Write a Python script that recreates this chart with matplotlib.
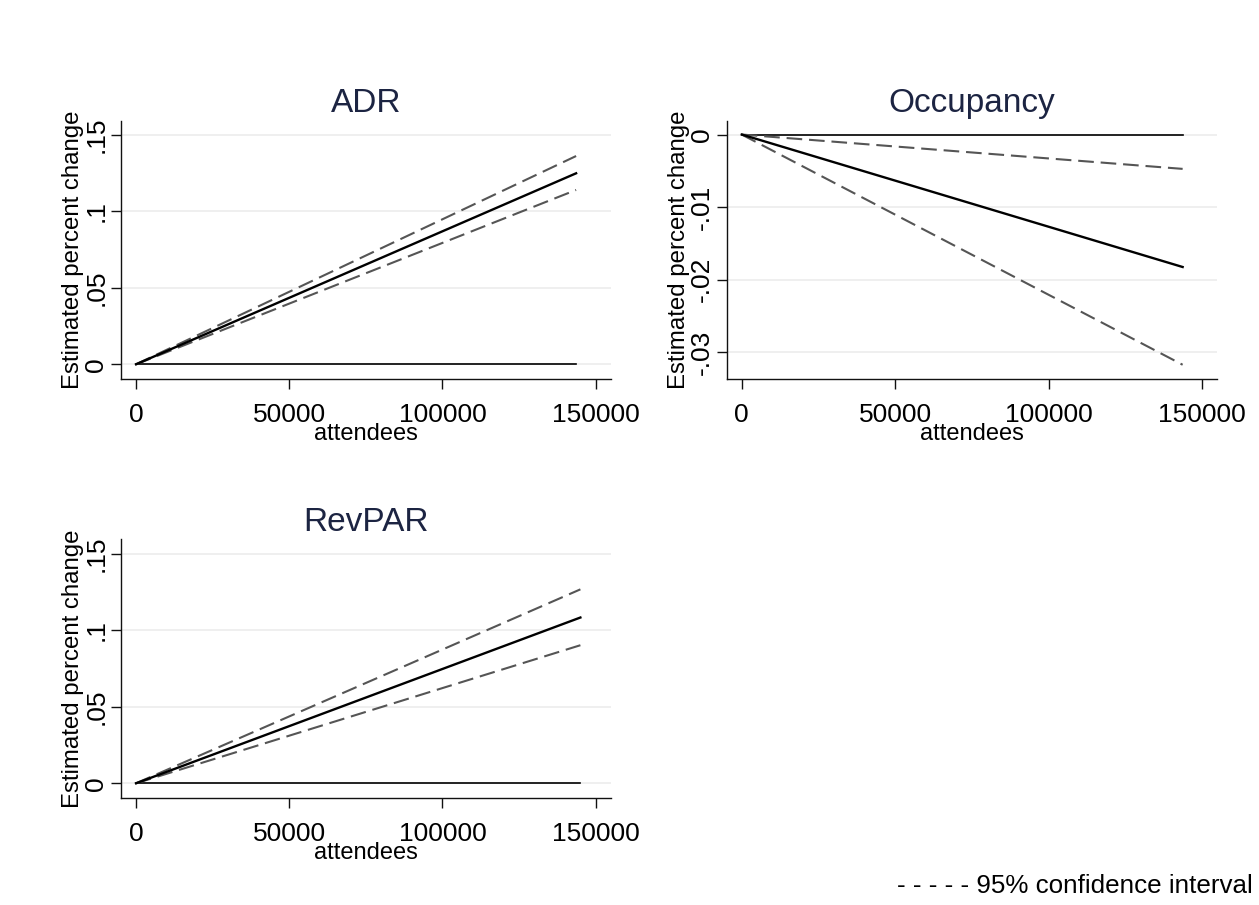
import matplotlib
matplotlib.use("Agg")
import matplotlib.pyplot as plt

plt.rcParams['font.family'] = ['Liberation Sans', 'DejaVu Sans']

# ---- data ----
adr_x = [0, 143600]
adr_est = [0, 0.125]
adr_lo = [0, 0.1141]
adr_hi = [0, 0.1363]

occ_x = [0, 143600]
occ_est = [0, -0.01824]
occ_lo = [0, -0.0317]
occ_hi = [0, -0.00473]

rev_x = [0, 145000]
rev_est = [0, 0.1083]
rev_lo = [0, 0.0902]
rev_hi = [0, 0.1267]

adr_yticks = [0, 0.05, 0.1, 0.15]
adr_ylabels = ['0', '.05', '.1', '.15']
occ_yticks = [0, -0.01, -0.02, -0.03]
occ_ylabels = ['0', '-.01', '-.02', '-.03']
xticks = [0, 50000, 100000, 150000]
xlabels = ['0', '50000', '100000', '150000']

W, H = 1259, 905
fig = plt.figure(figsize=(W / 100, H / 100), dpi=100)
fig.patch.set_facecolor('white')

title_color = '#1c2442'
dash_color = '#555555'
dash_style = (0, (7.5, 3.3))


def panel(rect, title, x, est, lo, hi, yticks, ylabels, ylim):
    ax = fig.add_axes(rect)
    ax.set_xlim(-4900, 154900)
    ax.set_ylim(*ylim)
    for y in yticks:
        ax.axhline(y, color='#ebebeb', lw=1.1, zorder=0)
    zero = [0 * v for v in est]
    ax.plot(x, zero, color='black', lw=1.2, zorder=2)
    ax.plot(x, hi, color=dash_color, lw=1.5, ls=dash_style, zorder=3)
    ax.plot(x, lo, color=dash_color, lw=1.5, ls=dash_style, zorder=3)
    ax.plot(x, est, color='black', lw=1.7, zorder=4)
    for s in ['top', 'right']:
        ax.spines[s].set_visible(False)
    for s in ['left', 'bottom']:
        ax.spines[s].set_linewidth(1.0)
        ax.spines[s].set_color('#111111')
    ax.set_xticks(xticks)
    ax.set_xticklabels(xlabels)
    ax.set_yticks(yticks)
    ax.set_yticklabels(ylabels, rotation=90, va='center')
    ax.tick_params(axis='both', labelsize=19, length=7, width=1.0, color='#111111')
    ax.tick_params(axis='y', pad=2)
    ax.tick_params(axis='x', pad=10)
    ax.set_xlabel('attendees', fontsize=17, labelpad=-3)
    ax.set_ylabel('Estimated percent change', fontsize=17.3, labelpad=0)
    ax.set_title(title, fontsize=24, color=title_color, pad=6)
    return ax


panel([0.0961, 0.5809, 0.389, 0.2857], 'ADR', adr_x, adr_est, adr_lo, adr_hi,
      adr_yticks, adr_ylabels, (-0.0098, 0.1594))
panel([0.5772, 0.5809, 0.3897, 0.2857], 'Occupancy', occ_x, occ_est, occ_lo, occ_hi,
      occ_yticks, occ_ylabels, (-0.0337, 0.0019))
panel([0.0961, 0.1179, 0.389, 0.2862], 'RevPAR', rev_x, rev_est, rev_lo, rev_hi,
      adr_yticks, adr_ylabels, (-0.0098, 0.1594))

fig.text(0.7125, 1 - 886 / H, '- - - - - 95% confidence interval', fontsize=18.7,
         ha='left', va='center', color='black')

fig.savefig('out.png', dpi=100, facecolor='white')
